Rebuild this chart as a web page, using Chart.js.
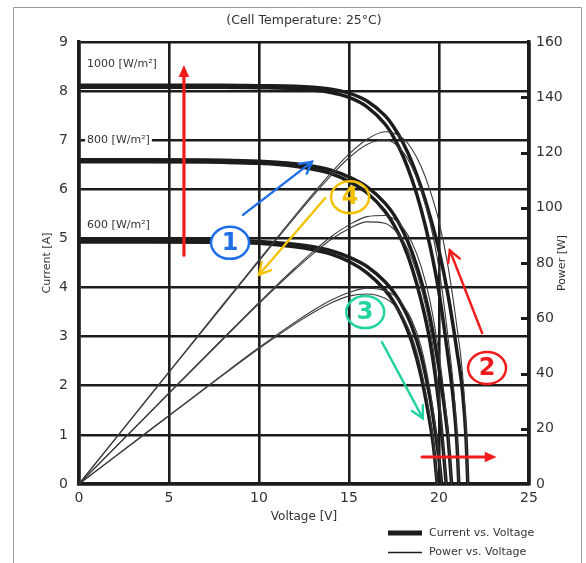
<!DOCTYPE html>
<html><head><meta charset="utf-8">
<script src="https://cdn.jsdelivr.net/npm/chart.js@4.4.1/dist/chart.umd.min.js"></script>
<style>html,body{margin:0;padding:0;background:#fff;}canvas{display:block;}</style>
</head><body>
<canvas id="c" width="586" height="563"></canvas>
<script>
// ---- text ----
const TITLE = "(Cell Temperature: 25°C)";
const X_TITLE = "Voltage [V]";
const Y_TITLE = "Current [A]";
const Y2_TITLE = "Power [W]";
const LEGEND_IV = "Current vs. Voltage";
const LEGEND_PV = "Power vs. Voltage";
const irradianceLabels = ["1000 [W/m²]", "800 [W/m²]", "600 [W/m²]"];
const irradianceLabelAt = [[0.45, 8.54], [0.45, 7.0], [0.45, 5.28]]; // [V, A]

// ---- axes ----
const xTickStep = 5, xMin = 0, xMax = 25;
const yTickStep = 1, yMin = 0, yMax = 9;
const y2TickStep = 20, y2Min = 0, y2Max = 160;

// ---- 1000 W/m2 ----
const voltage1000a = [0, 4, 8, 10, 12, 13, 14, 15, 16, 17, 17.5, 18, 18.5, 19, 19.5, 20, 20.5, 21, 21.3, 21.5, 21.6];
const current1000a = [8.12, 8.12, 8.12, 8.11, 8.10, 8.08, 8.04, 7.96, 7.80, 7.50, 7.26, 6.95, 6.55, 6.05, 5.45, 4.75, 3.85, 2.70, 1.90, 0.95, 0];
const power1000a   = [0, 32.5, 65, 81.1, 97.2, 105, 112.6, 119.4, 124.8, 127.5, 127.0, 125.1, 121.2, 115.0, 106.3, 95, 78.9, 56.7, 40.5, 20.4, 0];
const voltage1000b = [0, 4, 8, 10, 12, 13, 14, 15, 16, 17, 17.5, 18, 18.5, 19, 19.5, 20, 20.5, 20.8, 21.0, 21.1];
const current1000b = [8.08, 8.08, 8.08, 8.07, 8.05, 8.02, 7.97, 7.87, 7.68, 7.33, 7.05, 6.68, 6.2, 5.6, 4.85, 3.9, 2.6, 1.7, 0.8, 0];
const power1000b   = [0, 32.3, 64.6, 80.7, 96.6, 104.3, 111.6, 118.1, 122.9, 124.6, 123.4, 120.2, 114.7, 106.4, 94.6, 78, 53.3, 35.4, 16.8, 0];
// ---- 800 W/m2 ----
const voltage800a = [0, 4, 8, 10, 11, 12, 13, 14, 15, 16, 17, 17.5, 18, 18.5, 19, 19.5, 20, 20.3, 20.5, 20.7];
const current800a = [6.60, 6.60, 6.59, 6.57, 6.55, 6.52, 6.47, 6.39, 6.25, 6.05, 5.72, 5.48, 5.15, 4.72, 4.15, 3.40, 2.35, 1.55, 0.95, 0];
const power800a   = [0, 26.4, 52.7, 65.7, 72.1, 78.2, 84.1, 89.5, 93.8, 96.8, 97.2, 95.9, 92.7, 87.3, 78.9, 66.3, 47, 31.5, 19.5, 0];
const voltage800b = [0, 4, 8, 10, 12, 13, 14, 15, 16, 17, 17.5, 18, 18.5, 19, 19.5, 20, 20.2, 20.4];
const current800b = [6.56, 6.56, 6.55, 6.53, 6.47, 6.41, 6.32, 6.16, 5.93, 5.55, 5.27, 4.9, 4.4, 3.75, 2.9, 1.6, 0.85, 0];
const power800b   = [0, 26.2, 52.4, 65.3, 77.6, 83.3, 88.5, 92.4, 94.9, 94.4, 92.2, 88.2, 81.4, 71.3, 56.6, 32, 17.2, 0];
// ---- 600 W/m2 ----
const voltage600a = [0, 4, 8, 10, 12, 13, 14, 15, 16, 17, 17.5, 18, 18.5, 19, 19.5, 19.8, 20.0, 20.15];
const current600a = [4.97, 4.97, 4.96, 4.94, 4.88, 4.83, 4.75, 4.62, 4.43, 4.12, 3.9, 3.6, 3.2, 2.62, 1.75, 1.05, 0.5, 0];
const power600a   = [0, 19.9, 39.7, 49.4, 58.6, 62.8, 66.5, 69.3, 70.9, 70.0, 68.3, 64.8, 59.2, 49.8, 34.1, 20.8, 10, 0];
const voltage600b = [0, 4, 8, 10, 12, 13, 14, 15, 16, 17, 17.5, 18, 18.5, 19, 19.4, 19.7, 19.9];
const current600b = [4.93, 4.93, 4.92, 4.9, 4.83, 4.77, 4.68, 4.53, 4.3, 3.95, 3.7, 3.35, 2.88, 2.2, 1.45, 0.75, 0];
const power600b   = [0, 19.7, 39.4, 49, 58, 62, 65.5, 68, 68.8, 67.2, 64.8, 60.3, 53.3, 41.8, 28.1, 14.8, 0];

// ---- annotations (data units: [V, A]) ----
const arrowFrom  = [[5.83, 4.66], [9.11, 5.48], [13.67, 5.82], [16.83, 2.89], [22.4, 3.07], [19.06, 0.55]];
const arrowTo    = [[5.83, 8.53], [12.94, 6.56], [10.0, 4.26], [19.1, 1.34], [20.6, 4.76], [23.2, 0.55]];
const arrowColor = ['#f01c1c', '#1e6ee8', '#f5c200', '#22d3a0', '#f01c1c', '#f01c1c'];
const arrowHead  = ['fill', 'open', 'open', 'open', 'open', 'fill'];
const circleAt    = [[8.39, 4.91], [22.67, 2.36], [15.9, 3.5], [15.06, 5.84]];
const circleText  = ['1', '2', '3', '4'];
const circleColor = ['#1e6ee8', '#f01c1c', '#22d3a0', '#f5c200'];
const circleFilled = [true, false, false, false];

const FONT = '"DejaVu Sans", sans-serif';
const INK = '#1c1c1c';
const TXT = '#333';

function pts(xs, ys) { return xs.map((v, i) => ({x: v, y: ys[i]})); }
function ivSet(xs, ys) { return {data: pts(xs, ys), yAxisID: 'y', borderColor: INK, borderWidth: 3.5, pointRadius: 0, cubicInterpolationMode: 'monotone', fill: false}; }
function pvSet(xs, ys) { return {data: pts(xs, ys), yAxisID: 'y2', borderColor: '#3a3a3a', borderWidth: 1.1, pointRadius: 0, cubicInterpolationMode: 'monotone', fill: false}; }

const datasets = [
  pvSet(voltage1000a, power1000a), pvSet(voltage1000b, power1000b),
  pvSet(voltage800a, power800a), pvSet(voltage800b, power800b),
  pvSet(voltage600a, power600a), pvSet(voltage600b, power600b),
  ivSet(voltage1000a, current1000a), ivSet(voltage1000b, current1000b),
  ivSet(voltage800a, current800a), ivSet(voltage800b, current800b),
  ivSet(voltage600a, current600a), ivSet(voltage600b, current600b)
];

function arrow(ctx, x0, y0, x1, y1, color, head) {
  const a = Math.atan2(y1 - y0, x1 - x0);
  const L = 13, W = head === 'fill' ? 0.42 : 0.5;
  ctx.save();
  ctx.strokeStyle = color; ctx.fillStyle = color; ctx.lineWidth = head === 'fill' ? 3.2 : 2.4; ctx.lineCap = 'round';
  ctx.beginPath();
  if (head === 'fill') {
    ctx.moveTo(x0, y0); ctx.lineTo(x1 - Math.cos(a) * L * 0.8, y1 - Math.sin(a) * L * 0.8); ctx.stroke();
    ctx.beginPath();
    ctx.moveTo(x1, y1);
    ctx.lineTo(x1 - L * Math.cos(a - W), y1 - L * Math.sin(a - W));
    ctx.lineTo(x1 - L * Math.cos(a + W), y1 - L * Math.sin(a + W));
    ctx.closePath(); ctx.fill();
  } else {
    ctx.moveTo(x0, y0); ctx.lineTo(x1, y1); ctx.stroke();
    ctx.beginPath();
    ctx.moveTo(x1 - L * Math.cos(a - W), y1 - L * Math.sin(a - W));
    ctx.lineTo(x1, y1);
    ctx.lineTo(x1 - L * Math.cos(a + W), y1 - L * Math.sin(a + W));
    ctx.stroke();
  }
  ctx.restore();
}

const extras = {
  id: 'extras',
  beforeDraw(chart) {
    const ctx = chart.ctx;
    ctx.save(); ctx.fillStyle = '#fff'; ctx.fillRect(0, 0, chart.width, chart.height); ctx.restore();
  },
  afterDatasetsDraw(chart) {
    const {ctx, scales} = chart;
    const X = scales.x, Y = scales.y, Y2 = scales.y2;
    ctx.save();
    // inner ticks on right axis
    ctx.strokeStyle = INK; ctx.lineWidth = 3;
    for (let p = y2Min + y2TickStep; p < y2Max; p += y2TickStep) {
      const py = Math.round(Y2.getPixelForValue(p)) + 0.5;
      ctx.beginPath(); ctx.moveTo(X.right - 8, py); ctx.lineTo(X.right, py); ctx.stroke();
    }
    // irradiance labels
    ctx.font = '11px ' + FONT; ctx.textBaseline = 'middle'; ctx.textAlign = 'left';
    irradianceLabels.forEach((t, i) => {
      const px = X.getPixelForValue(irradianceLabelAt[i][0]);
      const py = Y.getPixelForValue(irradianceLabelAt[i][1]);
      const w = ctx.measureText(t).width;
      ctx.fillStyle = '#fff'; ctx.fillRect(px - 2, py - 7, w + 4, 14);
      ctx.fillStyle = TXT; ctx.fillText(t, px, py);
    });
    // arrows
    arrowFrom.forEach((f, i) => {
      arrow(ctx, X.getPixelForValue(f[0]), Y.getPixelForValue(f[1]),
            X.getPixelForValue(arrowTo[i][0]), Y.getPixelForValue(arrowTo[i][1]), arrowColor[i], arrowHead[i]);
    });
    // circled numbers
    circleAt.forEach((c, i) => {
      const px = X.getPixelForValue(c[0]), py = Y.getPixelForValue(c[1]);
      ctx.beginPath(); ctx.ellipse(px, py, 19, 16, 0, 0, Math.PI * 2);
      if (circleFilled[i]) { ctx.fillStyle = '#fff'; ctx.fill(); }
      ctx.strokeStyle = circleColor[i]; ctx.lineWidth = 2.5; ctx.stroke();
      ctx.fillStyle = circleColor[i]; ctx.font = 'bold 24px ' + FONT; ctx.textAlign = 'center'; ctx.textBaseline = 'middle';
      ctx.fillText(circleText[i], px, py + 1);
    });
    ctx.restore();
  },
  afterDraw(chart) {
    const {ctx} = chart;
    ctx.save();
    ctx.fillStyle = TXT; ctx.textAlign = 'center'; ctx.textBaseline = 'middle';
    ctx.font = '12.5px ' + FONT;
    ctx.fillText(TITLE, 304, 21);
    ctx.font = '12px ' + FONT;
    ctx.fillText(X_TITLE, 304, 517);
    ctx.font = '11px ' + FONT;
    ctx.save(); ctx.translate(47, 263); ctx.rotate(-Math.PI / 2); ctx.fillText(Y_TITLE, 0, 0); ctx.restore();
    ctx.save(); ctx.translate(562, 263); ctx.rotate(-Math.PI / 2); ctx.fillText(Y2_TITLE, 0, 0); ctx.restore();
    // legend
    ctx.strokeStyle = INK; ctx.lineWidth = 5;
    ctx.beginPath(); ctx.moveTo(388, 533); ctx.lineTo(422, 533); ctx.stroke();
    ctx.lineWidth = 1.4;
    ctx.beginPath(); ctx.moveTo(388, 552.5); ctx.lineTo(422, 552.5); ctx.stroke();
    ctx.textAlign = 'left'; ctx.font = '11px ' + FONT;
    ctx.fillText(LEGEND_IV, 429, 533);
    ctx.fillText(LEGEND_PV, 429, 552);
    // outer frame
    ctx.strokeStyle = '#9a9a9a'; ctx.lineWidth = 1;
    ctx.beginPath(); ctx.moveTo(13.5, 563); ctx.lineTo(13.5, 7.5); ctx.lineTo(581.5, 7.5); ctx.lineTo(581.5, 563); ctx.stroke();
    ctx.restore();
  }
};

const gridStyle = {color: INK, lineWidth: 2.6, drawTicks: false};
const borderStyle = {color: INK, width: 3.5};
const tickFont = {family: FONT, size: 14};

new Chart(document.getElementById('c'), {
  type: 'line',
  data: {datasets},
  options: {
    responsive: false, animation: false, devicePixelRatio: 1,
    layout: {padding: {top: 42, left: 0, right: 0, bottom: 0}},
    plugins: {legend: {display: false}, tooltip: {enabled: false}, title: {display: false}},
    scales: {
      x: {type: 'linear', min: xMin, max: xMax,
          ticks: {stepSize: xTickStep, padding: 6, color: TXT, font: tickFont},
          grid: gridStyle, border: borderStyle,
          afterFit(s) { s.height = 79; }},
      y: {type: 'linear', position: 'left', min: yMin, max: yMax,
          ticks: {stepSize: yTickStep, padding: 11, color: TXT, font: tickFont},
          grid: gridStyle, border: borderStyle,
          afterFit(s) { s.width = 79; }},
      y2: {type: 'linear', position: 'right', min: y2Min, max: y2Max,
          ticks: {stepSize: y2TickStep, padding: 7, color: TXT, font: tickFont},
          grid: {display: false, drawOnChartArea: false, drawTicks: false}, border: {display: true, color: INK, width: 3.5},
          afterFit(s) { s.width = 57; }}
    }
  },
  plugins: [extras]
});
</script>
</body></html>
